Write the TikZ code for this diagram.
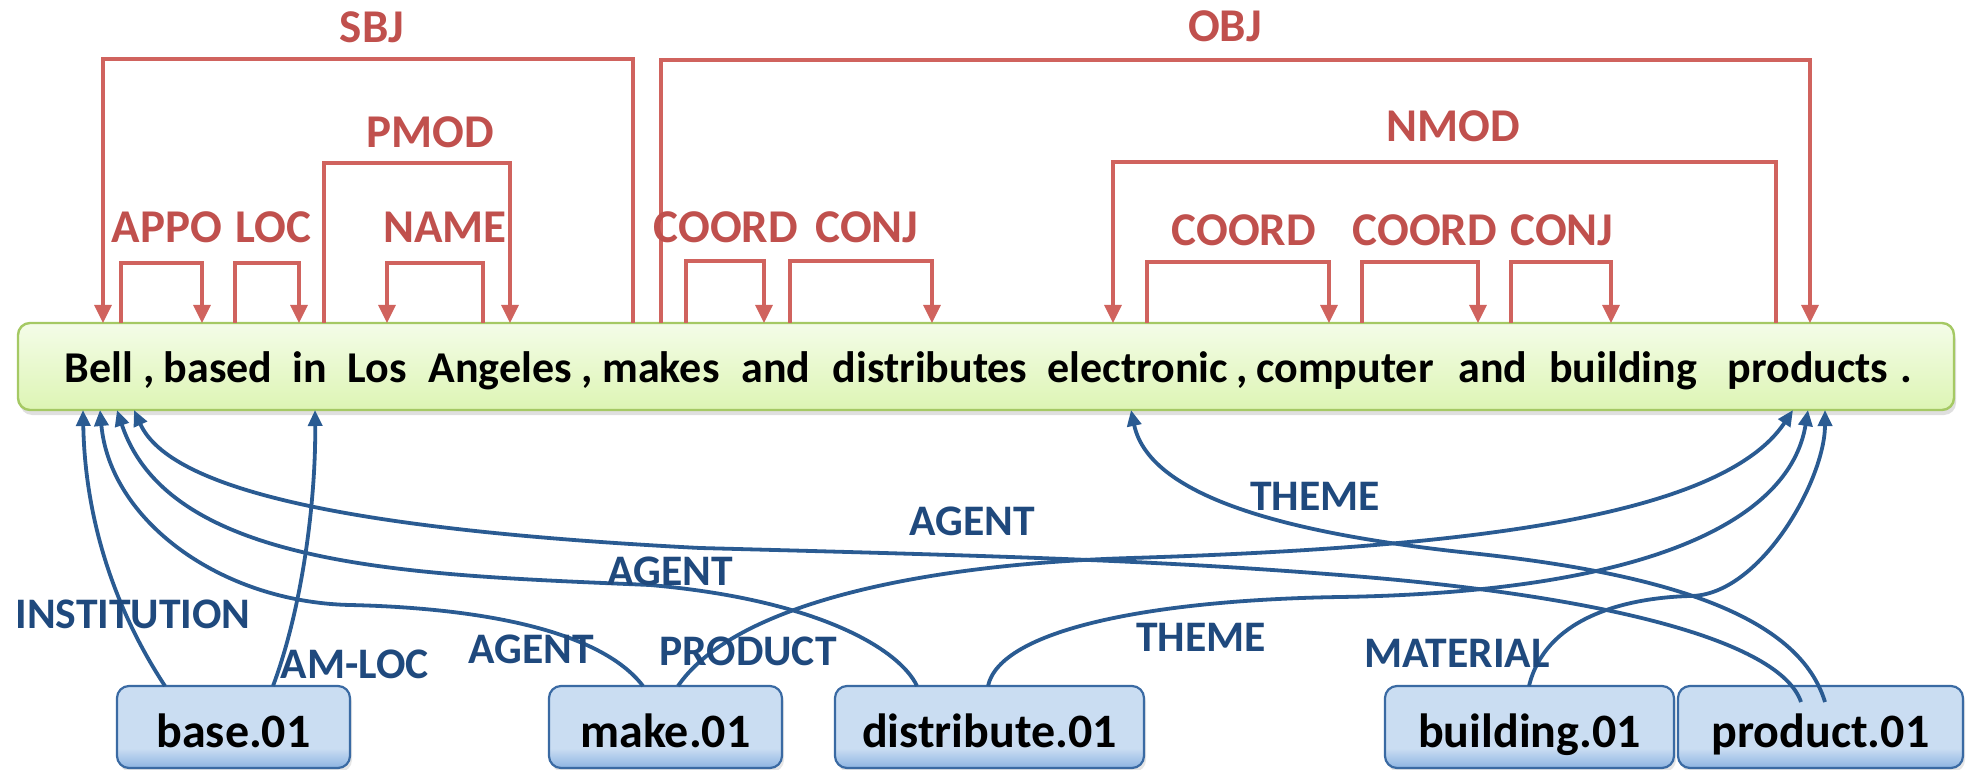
\documentclass[tikz,border=0pt]{standalone}
\usepackage{fontspec}
\setmainfont{Carlito}
\usetikzlibrary{arrows.meta,shadows}

\definecolor{deprel}{HTML}{D0635E}
\definecolor{deplab}{HTML}{C0504D}
\definecolor{srlline}{HTML}{2A5B92}
\definecolor{srllab}{HTML}{1F497D}
\definecolor{sentfillT}{HTML}{F4FCE8}
\definecolor{sentfillB}{HTML}{DDF5B4}
\definecolor{sentdraw}{HTML}{A5C964}
\definecolor{predfill}{HTML}{CADDF2}
\definecolor{predfillB}{HTML}{8DB4E2}
\definecolor{preddraw}{HTML}{3A6AA3}

% light blue body, darker band at the bottom of each predicate box
\pgfdeclareverticalshading{predshade}{100bp}{color(0bp)=(predfillB); color(25bp)=(predfillB); color(37bp)=(predfill); color(100bp)=(predfill)}

\newcommand\sentfont{\fontsize{22pt}{26pt}\selectfont\bfseries}
\newcommand\deplabfont{\fontsize{23.5pt}{27pt}\selectfont\bfseries}
\newcommand\srllabfont{\fontsize{21.8pt}{25pt}\selectfont\bfseries}
\newcommand\predfont{\fontsize{24pt}{28pt}\selectfont\bfseries}

\begin{document}
\begin{tikzpicture}[x=0.5pt,y=-0.5pt,
  word/.style={anchor=base, inner sep=0pt, font=\sentfont},
  deplabel/.style={anchor=base, inner sep=0pt, text=deplab, font=\deplabfont},
  srllabel/.style={anchor=base, inner sep=0pt, text=srllab, font=\srllabfont},
  dep/.style={draw=deprel, line width=1.6pt, -{Triangle[length=9pt,width=8.5pt]}},
  srl/.style={draw=srlline, line width=1.9pt, -{Triangle[length=8pt,width=7pt]}},
  sentbox/.style={draw=sentdraw, line width=1.2pt, rounded corners=6pt,
    top color=sentfillT, bottom color=sentfillB, inner sep=0pt,
    drop shadow={shadow xshift=1pt, shadow yshift=-2.5pt, opacity=0.25}},
  predbox/.style={draw=preddraw, line width=1.1pt, rounded corners=6pt,
    shading=predshade, inner sep=0pt, minimum height=41pt,
    text height=20pt, text depth=0pt, font=\predfont,
    drop shadow={shadow xshift=1pt, shadow yshift=-2pt, opacity=0.2}},
]
\useasboundingbox (0,0) rectangle (1966,770);

% ---------------- sentence ----------------
\node[sentbox, minimum width=968pt, minimum height=43.5pt] (sent) at (986,366.5) {};

\node[word] (w-bell)   at (99,383)   {Bell};
\node[word] (w-c1)     at (149,383)  {,};
\node[word] (w-based)  at (218,383)  {based};
\node[word] (w-in)     at (310,383)  {in};
\node[word] (w-los)    at (377,383)  {Los};
\node[word] (w-ang)    at (500,383)  {Angeles};
\node[word] (w-c2)     at (587,383)  {,};
\node[word] (w-makes)  at (661,383)  {makes};
\node[word] (w-and1)   at (776,383)  {and};
\node[word] (w-dist)   at (930,383)  {distributes};
\node[word] (w-elec)   at (1138,383) {electronic};
\node[word] (w-c3)     at (1242,383) {,};
\node[word] (w-comp)   at (1345,383) {computer};
\node[word] (w-and2)   at (1493,383) {and};
\node[word] (w-build)  at (1623,383) {building};
\node[word] (w-prod)   at (1808,383) {products};
\node[word] (w-dot)    at (1906,383) {.};

% ---------------- dependency arcs ----------------
\foreach \n/\x in {sbjh/633, sbjd/103, pmodh/324, pmodd/510, appoh/121, appod/202,
                   loch/235, locd/299, nameh/483, named/387, objh/661, objd/1810,
                   crd1h/686, crd1d/764, cnj1h/790, cnj1d/932, nmodh/1776, nmodd/1113,
                   crd2h/1147, crd2d/1329, crd3h/1362, crd3d/1478, cnj2h/1511, cnj2d/1611}
  \coordinate (\n) at (\x,323);

\draw[dep] (sbjh)  -- ++(0,-264) -| (sbjd);
\draw[dep] (pmodh) -- ++(0,-160) -| (pmodd);
\draw[dep] (appoh) -- ++(0,-60)  -| (appod);
\draw[dep] (loch)  -- ++(0,-60)  -| (locd);
\draw[dep] (nameh) -- ++(0,-60)  -| (named);
\draw[dep] (objh)  -- ++(0,-263) -| (objd);
\draw[dep] (crd1h) -- ++(0,-62)  -| (crd1d);
\draw[dep] (cnj1h) -- ++(0,-62)  -| (cnj1d);
\draw[dep] (nmodh) -- ++(0,-161) -| (nmodd);
\draw[dep] (crd2h) -- ++(0,-61)  -| (crd2d);
\draw[dep] (crd3h) -- ++(0,-61)  -| (crd3d);
\draw[dep] (cnj2h) -- ++(0,-61)  -| (cnj2d);

\node[deplabel] (l-sbj)   at (372,43)   {SBJ};
\node[deplabel] (l-obj)   at (1225,42)  {OBJ};
\node[deplabel] (l-pmod)  at (430,148)  {PMOD};
\node[deplabel] (l-nmod)  at (1453,142) {NMOD};
\node[deplabel] (l-appo)  at (167,243)  {APPO};
\node[deplabel] (l-loc)   at (273,243)  {LOC};
\node[deplabel] (l-name)  at (445,243)  {NAME};
\node[deplabel] (l-crd1)  at (726,243)  {COORD};
\node[deplabel] (l-cnj1)  at (867,243)  {CONJ};
\node[deplabel] (l-crd2)  at (1244,246) {COORD};
\node[deplabel] (l-crd3)  at (1425,246) {COORD};
\node[deplabel] (l-cnj2)  at (1562,246) {CONJ};

% ---------------- predicate boxes ----------------
\node[predbox, minimum width=116.5pt] (p-base)  at (233.5,727)  {base.01};
\node[predbox, minimum width=116.5pt] (p-make)  at (665.5,727)  {make.01};
\node[predbox, minimum width=154.5pt] (p-dist)  at (989.5,727)  {distribute.01};
\node[predbox, minimum width=144.5pt] (p-build) at (1529.5,727) {building.01};
\node[predbox, minimum width=142.5pt] (p-prod)  at (1820.5,727) {product.01};

% ---------------- semantic role arcs ----------------
% arrow tips on the lower edge of the sentence box
\foreach \n/\x in {bellA/83, bellB/100, bellC/117, bellD/134, inA/315,
                   elecA/1131, prodA/1793, prodB/1808, prodC/1825}
  \coordinate (\n) at (\x,410);
% starting points on the predicate boxes
\coordinate (baseA) at (165,686);
\coordinate (baseB) at (273,686);
\coordinate (makeA) at (643,686);
\coordinate (makeB) at (678,686);
\coordinate (distA) at (917,686);
\coordinate (distB) at (988,686);
\coordinate (buildA) at (1529,686);
\coordinate (prodbA) at (1801,702);
\coordinate (prodbB) at (1825,702);

\draw[srl] (baseA) .. controls (115,610) and (85,520) .. (bellA);
\draw[srl] (baseB) .. controls (305,600) and (316,490) .. (inA);
\draw[srl] (makeA) .. controls (600,630) and (480,608) .. (350,605)
                   .. controls (220,602) and (110,520) .. (bellB);
\draw[srl] (distA) .. controls (900,650) and (820,600) .. (650,585)
                   .. controls (420,575) and (170,570) .. (bellC);
\draw[srl] (prodbA) .. controls (1780,640) and (1600,595) .. (1340,575)
                    .. controls (1150,560) and (1000,556) .. (700,548)
                    .. controls (350,530) and (170,490) .. (bellD);
\draw[srl] (makeB) .. controls (730,610) and (900,565) .. (1131,558)
                   .. controls (1450,548) and (1720,520) .. (prodA);
\draw[srl] (distB) .. controls (1000,630) and (1150,600) .. (1340,597)
                   .. controls (1650,592) and (1790,520) .. (prodB);
\draw[srl] (buildA) .. controls (1545,620) and (1620,598) .. (1690,596)
                    .. controls (1760,596) and (1825,480) .. (prodC);
\draw[srl] (prodbB) .. controls (1800,620) and (1680,575) .. (1470,553)
                    .. controls (1300,535) and (1150,500) .. (elecA);

\node[srllabel] (r-inst)  at (133,628)  {INSTITUTION};
\node[srllabel] (r-amloc) at (355,678)  {AM-LOC};
\node[srllabel] (r-ag1)   at (531,663)  {AGENT};
\node[srllabel] (r-ag2)   at (670,585)  {AGENT};
\node[srllabel] (r-ag3)   at (972,535)  {AGENT};
\node[srllabel] (r-prod)  at (748,665)  {PRODUCT};
\node[srllabel] (r-th1)   at (1201,651) {THEME};
\node[srllabel] (r-th2)   at (1315,510) {THEME};
\node[srllabel] (r-mat)   at (1457,667) {MATERIAL};
\end{tikzpicture}
\end{document}
